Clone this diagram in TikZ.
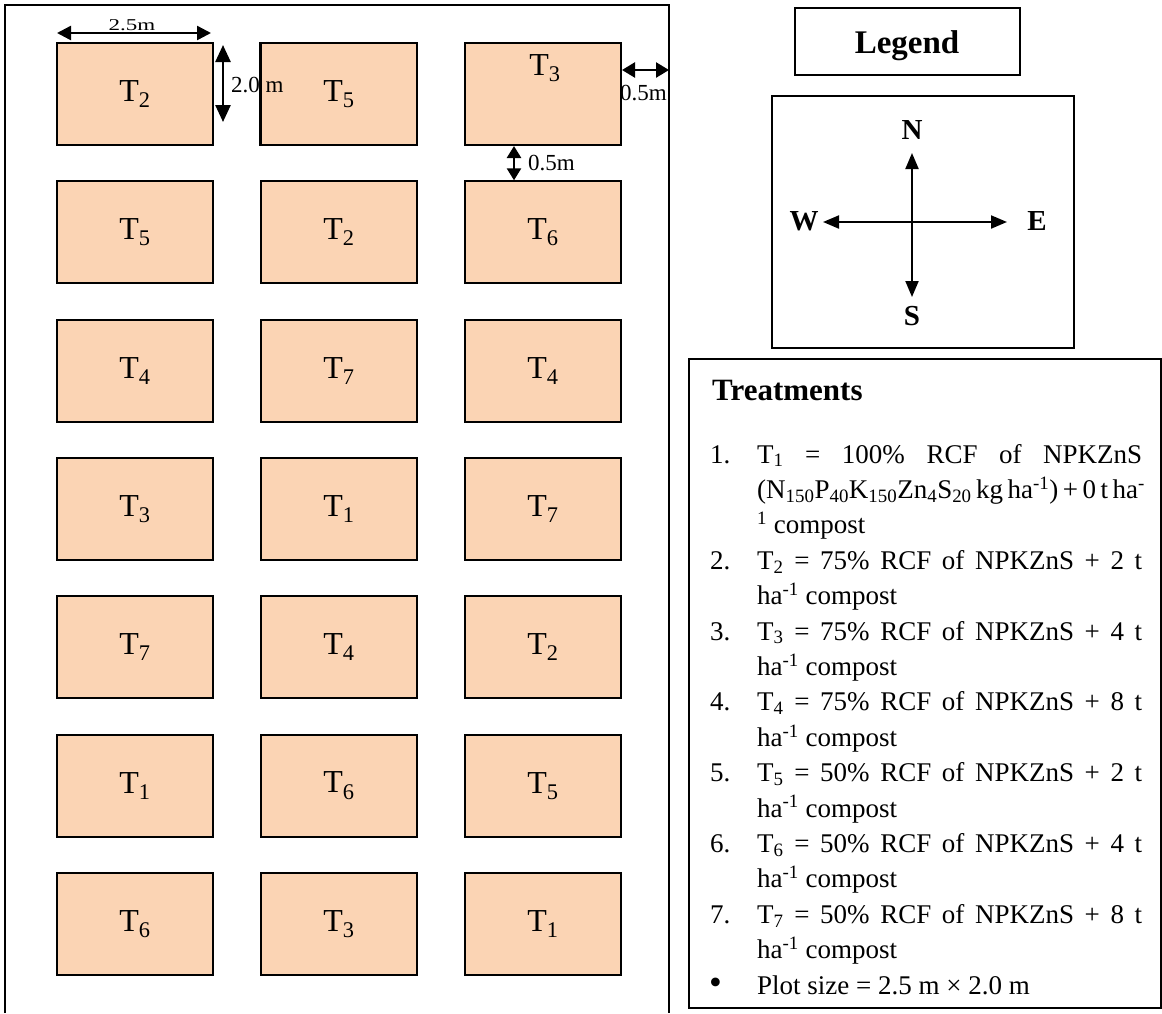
\documentclass[tikz,border=0pt]{standalone}
\usepackage{fontspec}
\setmainfont{Liberation Serif}
\usetikzlibrary{arrows.meta}
\definecolor{plotfill}{HTML}{FBD4B4}
\newcommand{\Tsub}[1]{T\textsubscript{#1}}
\newcommand{\hainv}{ha\textsuperscript{-1}}
\newcommand{\jline}[1]{\makebox[385pt][s]{#1}}
\begin{document}
\begin{tikzpicture}[x=1pt,y=-1pt,
  plotbox/.style={draw=black, line width=2pt, fill=plotfill, minimum width=156pt,
    minimum height=102pt, inner sep=0pt, font=\fontsize{32}{36}\selectfont},
  dimtext/.style={inner sep=0pt, anchor=base west, font=\fontsize{23}{26}\selectfont},
  dimarrow/.style={line width=2.5pt, {Triangle[length=14pt,width=14pt]}-{Triangle[length=14pt,width=14pt]}},
  legbox/.style={draw=black, line width=1.5pt, inner sep=0pt},
  cmptext/.style={inner sep=0pt, anchor=base, font=\fontsize{29}{32}\selectfont\bfseries},
  cmparrow/.style={line width=2pt, -{Triangle[length=16pt,width=13pt]}},
  trtext/.style={inner sep=0pt, anchor=base west, font=\fontsize{27}{30}\selectfont}]
\useasboundingbox (0,0) rectangle (1162,1013);
\fill[white] (0,0) rectangle (1162,1013);

% field outline (open at the bottom)
\coordinate (fbl) at (5,1013);
\coordinate (ftl) at (5,5);
\coordinate (ftr) at (669,5);
\coordinate (fbr) at (669,1013);
\draw[line width=2pt] (fbl) -- (ftl) -- (ftr) -- (fbr);

% plots
\node[plotbox] (p11) at (135,94) {\Tsub{2}};
\node[plotbox] (p12) at (339,94) {\Tsub{5}};
\node[plotbox] (p13) at (543,94) {};
\node[inner sep=0pt, anchor=base, font=\fontsize{32}{36}\selectfont] (p13t) at (545,75) {\Tsub{3}};
\node[plotbox] (p21) at (135,232.3) {\Tsub{5}};
\node[plotbox] (p22) at (339,232.3) {\Tsub{2}};
\node[plotbox] (p23) at (543,232.3) {\Tsub{6}};
\node[plotbox] (p31) at (135,370.7) {\Tsub{4}};
\node[plotbox] (p32) at (339,370.7) {\Tsub{7}};
\node[plotbox] (p33) at (543,370.7) {\Tsub{4}};
\node[plotbox] (p41) at (135,509) {\Tsub{3}};
\node[plotbox] (p42) at (339,509) {\Tsub{1}};
\node[plotbox] (p43) at (543,509) {\Tsub{7}};
\node[plotbox] (p51) at (135,647.3) {\Tsub{7}};
\node[plotbox] (p52) at (339,647.3) {\Tsub{4}};
\node[plotbox] (p53) at (543,647.3) {\Tsub{2}};
\node[plotbox] (p61) at (135,785.7) {\Tsub{1}};
\node[plotbox] (p62) at (339,785.7) {\Tsub{6}};
\node[plotbox] (p63) at (543,785.7) {\Tsub{5}};
\node[plotbox] (p71) at (135,924) {\Tsub{6}};
\node[plotbox] (p72) at (339,924) {\Tsub{3}};
\node[plotbox] (p73) at (543,924) {\Tsub{1}};

% dimension arrows
\coordinate (dwa) at (57,33);
\coordinate (dwb) at (211,33);
\draw[dimarrow] (dwa) -- (dwb);
\node[inner sep=0pt, anchor=base, font=\fontsize{23}{26}\selectfont] (dwt) at (132,30) {\scalebox{1}[0.72]{2.5m}};
\coordinate (dha) at (223,45);
\coordinate (dhb) at (223,122);
\draw[dimarrow, {Triangle[length=17pt,width=15pt]}-{Triangle[length=17pt,width=15pt]}] (dha) -- (dhb);
\node[dimtext] (dht) at (231,92) {2.0 m};
\draw[line width=2pt] (p12.north west) -- (p12.south west);
\coordinate (dra) at (622,70);
\coordinate (drb) at (669,70);
\draw[dimarrow, {Triangle[length=13pt,width=15pt]}-{Triangle[length=13pt,width=15pt]}] (dra) -- (drb);
\node[dimtext] (drt) at (620,100) {0.5m};
\draw[dimarrow, {Triangle[length=12pt,width=14pt]}-{Triangle[length=12pt,width=14pt]}] (p13.south -| 514,0) -- (p23.north -| 514,0);
\node[dimtext] (dvt) at (528,170) {0.5m};

% legend
\node[legbox, minimum width=225pt, minimum height=67pt] (legend) at (907.5,41.5) {};
\node[inner sep=0pt, anchor=base, font=\fontsize{33}{36}\selectfont\bfseries] (legendt) at (907,53) {Legend};

% compass
\node[legbox, minimum width=302pt, minimum height=252pt] (compass) at (923,222) {};
\coordinate (cc) at (912,222);
\coordinate (cn) at (912,153);
\coordinate (cs) at (912,297);
\coordinate (cw) at (823,222);
\coordinate (ce) at (1007,222);
\draw[cmparrow] (cc) -- (cn);
\draw[cmparrow] (cc) -- (cs);
\draw[cmparrow] (cc) -- (cw);
\draw[cmparrow] (cc) -- (ce);
\node[cmptext] (nN) at (912,139) {N};
\node[cmptext] (nS) at (912,325) {S};
\node[cmptext] (nW) at (804,230) {W};
\node[cmptext] (nE) at (1037,230) {E};

% treatments
\node[legbox, minimum width=472pt, minimum height=649pt] (treat) at (925,683.5) {};
\node[inner sep=0pt, anchor=base west, font=\fontsize{31}{34}\selectfont\bfseries] (treatt) at (712,400) {Treatments};

\node[trtext] (n1) at (710,463) {1.};
\node[trtext] (l1a) at (757,463) {\jline{\Tsub{1} = 100\% RCF of NPKZnS}};
\node[trtext] (l1b) at (757,498.4) {\jline{(N\textsubscript{150}P\textsubscript{40}K\textsubscript{150}Zn\textsubscript{4}S\textsubscript{20} kg \hainv) + 0 t ha\textsuperscript{-}}};
\node[trtext] (l1c) at (757,533.8) {\textsuperscript{1} compost};

\node[trtext] (n2) at (710,569.2) {2.};
\node[trtext] (l2a) at (757,569.2) {\jline{\Tsub{2} = 75\% RCF of NPKZnS + 2 t}};
\node[trtext] (l2b) at (757,604.6) {\hainv{} compost};

\node[trtext] (n3) at (710,640) {3.};
\node[trtext] (l3a) at (757,640) {\jline{\Tsub{3} = 75\% RCF of NPKZnS + 4 t}};
\node[trtext] (l3b) at (757,675.4) {\hainv{} compost};

\node[trtext] (n4) at (710,710.8) {4.};
\node[trtext] (l4a) at (757,710.8) {\jline{\Tsub{4} = 75\% RCF of NPKZnS + 8 t}};
\node[trtext] (l4b) at (757,746.2) {\hainv{} compost};

\node[trtext] (n5) at (710,781.6) {5.};
\node[trtext] (l5a) at (757,781.6) {\jline{\Tsub{5} = 50\% RCF of NPKZnS + 2 t}};
\node[trtext] (l5b) at (757,817) {\hainv{} compost};

\node[trtext] (n6) at (710,852.4) {6.};
\node[trtext] (l6a) at (757,852.4) {\jline{\Tsub{6} = 50\% RCF of NPKZnS + 4 t}};
\node[trtext] (l6b) at (757,887.8) {\hainv{} compost};

\node[trtext] (n7) at (710,923.2) {7.};
\node[trtext] (l7a) at (757,923.2) {\jline{\Tsub{7} = 50\% RCF of NPKZnS + 8 t}};
\node[trtext] (l7b) at (757,958.6) {\hainv{} compost};

\node[trtext] (n8) at (709,994) {\scalebox{1.35}{\textbullet}};
\node[trtext] (l8) at (757,994) {Plot size = 2.5 m × 2.0 m};
\end{tikzpicture}
\end{document}
